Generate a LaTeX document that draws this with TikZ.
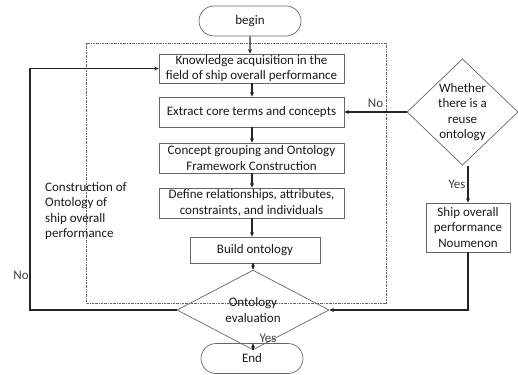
\documentclass[tikz,border=0pt]{standalone}
\usepackage{fontspec}
\setmainfont{Carlito}
\usetikzlibrary{shapes.geometric,shapes.misc,arrows.meta}
\begin{document}
\begin{tikzpicture}[x=1pt,y=-1pt,
  font=\fontsize{13}{15.5}\selectfont,
  box/.style={draw=black!60,line width=0.7pt,rectangle,inner sep=0pt,align=center,text=black!90},
  term/.style={draw=black!60,line width=0.7pt,rounded rectangle,inner sep=0pt,minimum width=102pt,minimum height=30pt,text=black!90},
  dia/.style={draw=black!60,line width=0.7pt,diamond,inner sep=0pt,align=center,text=black!90},
  conn/.style={draw=black!85,line width=1.1pt,-{Stealth[length=4.5pt,width=4pt]}},
  lbl/.style={text=black!75,inner sep=0pt}]
\useasboundingbox (0,0) rectangle (518,374);
\draw[black!60,line width=0.5pt,dash pattern=on 2pt off 1pt on 0.5pt off 1pt] (86,43) rectangle (386,303);
\node[term] (begin) at (250,21) {begin};
\node[box,minimum width=185pt,minimum height=29pt] (b1) at (251.5,68.5) {Knowledge acquisition in the\\field of ship overall performance};
\node[box,minimum width=185pt,minimum height=30pt] (b2) at (251.5,112) {Extract core terms and concepts};
\node[box,minimum width=185pt,minimum height=30pt] (b3) at (251.5,158) {Concept grouping and Ontology\\Framework Construction};
\node[box,minimum width=185pt,minimum height=30pt] (b4) at (251.5,203) {Define relationships, attributes,\\constraints, and individuals};
\node[box,minimum width=130pt,minimum height=26pt] (b5) at (255,250) {Build ontology};
\node[dia,minimum width=152pt,minimum height=48pt] (eval) at (253,310) {Ontology\\evaluation};
\node[term] (end) at (252,358.5) {End};
\node[dia,minimum width=111pt,minimum height=88pt] (reuse) at (462.5,112) {Whether\\there is a\\reuse\\ontology};
\node[box,minimum width=84pt,minimum height=49pt] (nou) at (468,227.5) {Ship overall\\performance\\Noumenon};
\node[lbl,align=left,anchor=north west,text=black!90] (cons) at (45,182) {Construction of\\Ontology of\\ship overall\\performance};
\coordinate (c1) at (30,310);
\coordinate (c2) at (30,68.5);
\coordinate (c3) at (468,310);
\draw[conn] (begin) -- (b1.north -| begin);
\draw[conn] (b1.south -| 252,0) -- (b2.north -| 252,0);
\draw[conn] (b2.south -| 252,0) -- (b3.north -| 252,0);
\draw[conn] (b3.south -| 252,0) -- (b4.north -| 252,0);
\draw[conn] (b4.south -| 252,0) -- (b5.north -| 252,0);
\draw[conn] (b5.south -| 253,0) -- (eval);
\draw[conn] (eval) -- (end.north -| 253,0);
\draw[conn] (reuse.west) -- (b2.east) node[lbl,pos=0.5,above=4pt] (no1) {No};
\draw[conn] (reuse.south -| nou) -- (nou.north) node[lbl,pos=0.5,left=2pt] (yes1) {Yes};
\draw[conn] (nou.south) -- (c3) -- (eval.east);
\draw[conn] (eval.west) -- (c1) -- (c2) -- (b1.west);
\node[lbl] (no2) at (21,275) {No};
\node[lbl] (yes2) at (268,338) {Yes};
\end{tikzpicture}
\end{document}
